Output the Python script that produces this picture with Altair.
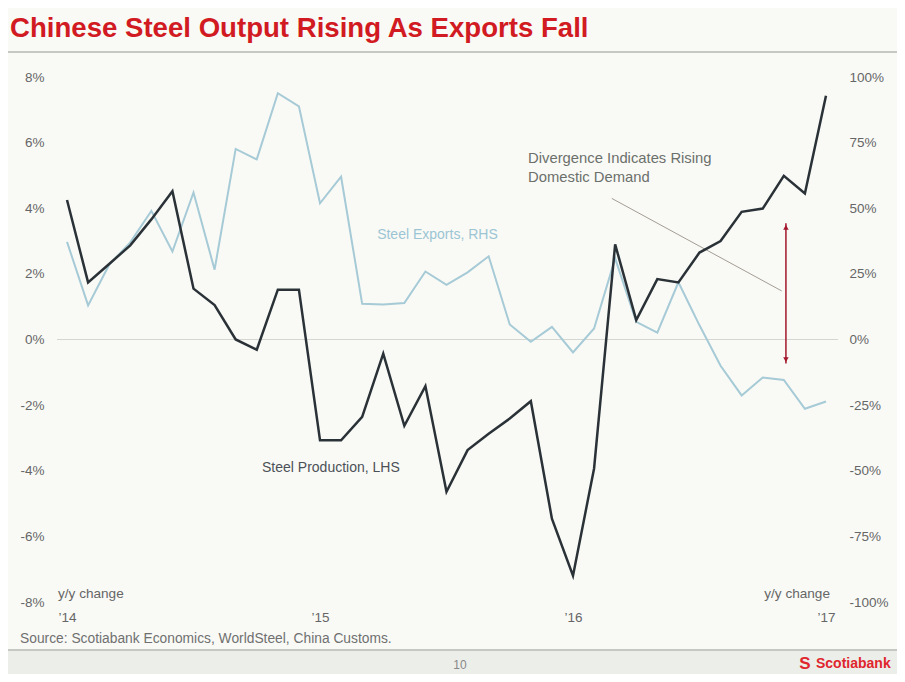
import altair as alt
import pandas as pd

# ---------------- data ----------------
months = list(range(37))  # Jan 2014 .. Jan 2017
production = [4.25, 1.74, 2.3, 2.87, 3.66, 4.52, 1.55, 1.05, 0.0, -0.31, 1.52, 1.52,
              -3.07, -3.07, -2.36, -0.43, -2.63, -1.42, -4.64, -3.37, -2.87, -2.41, -1.88, -5.46,
              -7.2, -3.93, 2.9, 0.59, 1.84, 1.74, 2.65, 3.0, 3.89, 3.99, 4.99, 4.45,
              7.43]
exports = [37.2, 13.0, 28.5, 37.0, 49.0, 33.5, 56.0, 26.6, 72.6, 68.6, 93.8, 88.8,
           51.9, 62.0, 13.6, 13.3, 13.9, 25.9, 20.8, 25.6, 31.7, 5.7, -0.9, 4.8,
           -4.9, 4.2, 30.9, 6.7, 2.6, 21.8, 5.4, -10.0, -21.3, -14.5, -15.4, -26.4,
           -23.6]
x_ticks = [0, 12, 24, 36]
left_ticks = [-8, -6, -4, -2, 0, 2, 4, 6, 8]
right_ticks = [-100, -75, -50, -25, 0, 25, 50, 75, 100]

title_text = "Chinese Steel Output Rising As Exports Fall"
source_text = "Source: Scotiabank Economics, WorldSteel, China Customs."
divergence_lines = ["Divergence Indicates Rising", "Domestic Demand"]

FONT = "Liberation Sans"
W, H = 781, 525
XDOM = [-0.475, 36.57]
LS = alt.Scale(domain=[-8, 8], nice=False, zero=False)
RS = alt.Scale(domain=[-100, 100], nice=False, zero=False)
AX_FS = 13.5

df = pd.DataFrame({"m": months, "prod": production, "exp": exports})

xaxis = alt.Axis(values=x_ticks, labelExpr="'\u2019' + (14 + datum.value/12)",
                 ticks=False, domain=False, grid=False, labelPadding=8,
                 labelFontSize=AX_FS, labelColor="#666666", labelFont=FONT, title=None)
xscale = alt.Scale(domain=XDOM, nice=False, zero=False)


def X(field):
    return alt.X(field, type="quantitative", scale=xscale, axis=xaxis)


def Yl(field, axis=None):
    return alt.Y(field, type="quantitative", scale=LS, axis=axis)


one = pd.DataFrame({"a": [0]})

# background decorations (pixel positioned, outside the data)
footer = alt.Chart(one).mark_rect(color="#eceeea").encode(
    x=alt.value(-57), x2=alt.value(848), y=alt.value(574), y2=alt.value(620))
sep_lines = alt.Chart(pd.DataFrame({"yy": [-25, 573]})).mark_rule(
    color="#c6c8c4", strokeWidth=2).encode(
    x=alt.value(-57), x2=alt.value(848), y=alt.Y("yy:Q", scale=None))

zero_rule = alt.Chart(one).mark_rule(color="#d4d6d2", strokeWidth=1.2).encode(
    y=alt.Y(datum=0, type="quantitative", scale=LS, axis=None))

# annotation: diagonal pointer line
diag = pd.DataFrame({"m": [25.84, 33.9], "v": [4.30, 1.48]})
diag_line = alt.Chart(diag).mark_line(color="#a39d94", strokeWidth=1).encode(
    x=X("m"), y=Yl("v"))

# red double arrow
arrow_df = pd.DataFrame({"m": [34.1], "v1": [3.54], "v2": [-0.73]})
arrow_rule = alt.Chart(arrow_df).mark_rule(color="#a3162c", strokeWidth=1.5).encode(
    x=X("m"), y=Yl("v1"), y2="v2")
head_df = pd.DataFrame({"m": [34.1, 34.1], "v": [3.42, -0.61],
                        "shape": ["triangle-up", "triangle-down"]})
heads = alt.Chart(head_df).mark_point(filled=True, color="#a3162c", size=30, opacity=1).encode(
    x=X("m"), y=Yl("v"), shape=alt.Shape("shape:N", scale=None))

# text annotations in data coordinates
lab_df = pd.DataFrame({"m": [14.71], "v": [3.19], "t": ["Steel Exports, RHS"]})
exp_label = alt.Chart(lab_df).mark_text(align="left", baseline="middle", font=FONT,
                                        fontSize=14, color="#9cc5d4").encode(
    x=X("m"), y=Yl("v"), text="t:N")
prod_lab_df = pd.DataFrame({"m": [9.25], "v": [-3.93], "t": ["Steel Production, LHS"]})
prod_label = alt.Chart(prod_lab_df).mark_text(align="left", baseline="middle", font=FONT,
                                              fontSize=14, color="#4c5157").encode(
    x=X("m"), y=Yl("v"), text="t:N")
div_df = pd.DataFrame({"m": [21.87, 21.87], "v": [5.49, 4.92], "t": divergence_lines})
div_label = alt.Chart(div_df).mark_text(align="left", baseline="middle", font=FONT,
                                        fontSize=14.8, color="#6c706b").encode(
    x=X("m"), y=Yl("v"), text="t:N")

# pixel-positioned texts (title, footers)
title = alt.Chart(pd.DataFrame({"t": [title_text]})).mark_text(
    align="left", baseline="alphabetic", font=FONT, fontSize=27.6, fontWeight="bold",
    color="#d11a22").encode(x=alt.value(-47), y=alt.value(-40), text="t:N")
yy_left = alt.Chart(pd.DataFrame({"t": ["y/y change"]})).mark_text(
    align="left", baseline="middle", font=FONT, fontSize=13.6, color="#666666").encode(
    x=alt.value(1), y=alt.value(517), text="t:N")
yy_right = alt.Chart(pd.DataFrame({"t": ["y/y change"]})).mark_text(
    align="right", baseline="middle", font=FONT, fontSize=13.6, color="#666666").encode(
    x=alt.value(773), y=alt.value(517), text="t:N")
source = alt.Chart(pd.DataFrame({"t": [source_text]})).mark_text(
    align="left", baseline="middle", font=FONT, fontSize=13.8, color="#707070").encode(
    x=alt.value(-37), y=alt.value(562), text="t:N")
page_no = alt.Chart(pd.DataFrame({"t": ["10"]})).mark_text(
    align="center", baseline="middle", font=FONT, fontSize=12, color="#888888").encode(
    x=alt.value(403), y=alt.value(588), text="t:N")
logo_s = alt.Chart(pd.DataFrame({"t": ["S"]})).mark_text(
    align="center", baseline="middle", font=FONT, fontSize=17, fontWeight="bold",
    color="#e0262d").encode(
    x=alt.value(748), y=alt.value(587), text="t:N")
logo = alt.Chart(pd.DataFrame({"t": ["Scotiabank"]})).mark_text(
    align="left", baseline="middle", font=FONT, fontSize=14, fontWeight="bold",
    color="#e0262d").encode(x=alt.value(759), y=alt.value(587), text="t:N")

# main series
exp_line = alt.Chart(df).mark_line(color="#a6cad6", strokeWidth=2).encode(
    x=X("m"),
    y=alt.Y("exp:Q", scale=RS,
            axis=alt.Axis(orient="right", values=right_ticks,
                          labelExpr="datum.value + '%'", ticks=False, domain=False,
                          grid=False, labelPadding=11, labelFontSize=AX_FS,
                          labelColor="#666666", labelFont=FONT, title=None)))
prod_line = alt.Chart(df).mark_line(color="#2a3237", strokeWidth=2.5).encode(
    x=X("m"),
    y=alt.Y("prod:Q", scale=LS,
            axis=alt.Axis(orient="left", values=left_ticks,
                          labelExpr="datum.value + '%'", ticks=False, domain=False,
                          grid=False, labelPadding=13, labelFontSize=AX_FS,
                          labelColor="#666666", labelFont=FONT, title=None)))

chart = alt.layer(
    footer, sep_lines, zero_rule, diag_line, arrow_rule, heads,
    exp_label, prod_label, div_label,
    exp_line, prod_line,
    title, yy_left, yy_right, source, page_no, logo_s, logo,
).resolve_scale(y="independent").properties(
    width=W, height=H,
    background="#f9faf6",
    padding={"left": 49, "top": 69, "right": 59, "bottom": 72},
    autosize=alt.AutoSizeParams(type="none"),
).configure_view(stroke=None)

chart.save("out.html", embed_options={"renderer": "svg", "actions": False})
